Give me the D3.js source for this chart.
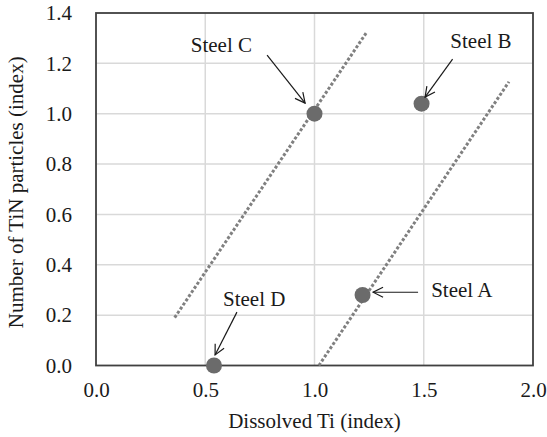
<!DOCTYPE html>
<html>
<head>
<meta charset="utf-8">
<script src="https://cdn.jsdelivr.net/npm/d3@7"></script>
<style>
    body { margin: 0; background: #fff; }
    text { font-family: "Liberation Serif", "Times New Roman", serif; fill: #1a1a1a; }
</style>
</head>
<body>
<script>
// Data
var steels = ["Steel A", "Steel B", "Steel C", "Steel D"];
var dissolvedTi = [1.22, 1.49, 1.00, 0.54];
var tinParticles = [0.28, 1.04, 1.00, 0.00];

// Dotted guide lines (end points)
var guideX1 = [0.36, 1.236], guideY1 = [0.19, 1.32];
var guideX2 = [1.02, 1.89],  guideY2 = [0.00, 1.127];

// Tick values
var xTicks = [0, 0.5, 1.0, 1.5, 2.0];
var yTicks = [0, 0.2, 0.4, 0.6, 0.8, 1.0, 1.2, 1.4];

// Callout labels (in data units): label spot, arrow start, arrow tip
var labelX = [1.674, 1.762, 0.574, 0.724];
var labelY = [0.273, 1.261, 1.245, 0.236];
var arrowFromX = [1.474, 1.632, 0.783, 0.645];
var arrowFromY = [0.291, 1.217, 1.233, 0.212];
var arrowToX = [1.268, 1.506, 0.957, 0.545];
var arrowToY = [0.291, 1.066, 1.042, 0.042];

var W = 547, H = 437;
var margin = {left: 96, right: 14, top: 13, bottom: 71.5};
var width = W - margin.left - margin.right,
    height = H - margin.top - margin.bottom;

var svg = d3.select("body").append("svg")
    .attr("width", W)
    .attr("height", H);

svg.append("defs").append("marker")
    .attr("id", "head")
    .attr("viewBox", "0 0 12 12")
    .attr("refX", 11).attr("refY", 6)
    .attr("markerWidth", 12).attr("markerHeight", 12)
    .attr("markerUnits", "userSpaceOnUse")
    .attr("orient", "auto")
    .append("path")
    .attr("d", "M1,1 L11,6 L1,11")
    .attr("fill", "none")
    .attr("stroke", "#1a1a1a")
    .attr("stroke-width", 1.2);

var g = svg.append("g")
    .attr("transform", "translate(" + margin.left + "," + margin.top + ")");

var x = d3.scaleLinear().domain([0, 2]).range([0, width]);
var y = d3.scaleLinear().domain([0, 1.4]).range([height, 0]);

// Gridlines
g.append("g").selectAll("line.gx")
    .data(xTicks.slice(1, -1))
    .enter().append("line")
    .attr("x1", d => x(d)).attr("x2", d => x(d))
    .attr("y1", 0).attr("y2", height)
    .attr("stroke", "#d9d9d9").attr("stroke-width", 1.5);

g.append("g").selectAll("line.gy")
    .data(yTicks.slice(1, -1))
    .enter().append("line")
    .attr("x1", 0).attr("x2", width)
    .attr("y1", d => y(d)).attr("y2", d => y(d))
    .attr("stroke", "#d9d9d9").attr("stroke-width", 1.5);

// Axes (labels only)
var fmt = d3.format(".1f");
var yAxis = g.append("g")
    .call(d3.axisLeft(y).tickValues(yTicks).tickFormat(fmt)
        .tickSize(0).tickPadding(24));
var xAxis = g.append("g")
    .attr("transform", "translate(0," + height + ")")
    .call(d3.axisBottom(x).tickValues(xTicks).tickFormat(fmt)
        .tickSize(0).tickPadding(16.5));
[xAxis, yAxis].forEach(function(a) {
    a.select(".domain").remove();
    a.selectAll("text")
        .style("font-size", "21px")
        .style("font-family", "'Liberation Serif', 'Times New Roman', serif")
        .attr("fill", "#1a1a1a");
});

// Plot border
g.append("rect")
    .attr("x", 0).attr("y", 0)
    .attr("width", width).attr("height", height)
    .attr("fill", "none")
    .attr("stroke", "#404040").attr("stroke-width", 1.8);

// Dotted guide lines
var line = d3.line().x(d => x(d[0])).y(d => y(d[1]));
[[guideX1, guideY1], [guideX2, guideY2]].forEach(function(p) {
    g.append("path")
        .datum(d3.zip(p[0], p[1]))
        .attr("d", line)
        .attr("fill", "none")
        .attr("stroke", "#808080")
        .attr("stroke-width", 3)
        .attr("stroke-dasharray", "3,2");
});

// Points
g.append("g").selectAll("circle")
    .data(steels)
    .enter().append("circle")
    .attr("cx", (d, i) => x(dissolvedTi[i]))
    .attr("cy", (d, i) => y(tinParticles[i]))
    .attr("r", 8)
    .attr("fill", "#6b6b6b");

// Callouts
g.append("g").selectAll("line")
    .data(steels)
    .enter().append("line")
    .attr("x1", (d, i) => x(arrowFromX[i]))
    .attr("y1", (d, i) => y(arrowFromY[i]))
    .attr("x2", (d, i) => x(arrowToX[i]))
    .attr("y2", (d, i) => y(arrowToY[i]))
    .attr("stroke", "#1a1a1a")
    .attr("stroke-width", 1.2)
    .attr("marker-end", "url(#head)");

g.append("g").selectAll("text")
    .data(steels)
    .enter().append("text")
    .attr("x", (d, i) => x(labelX[i]))
    .attr("y", (d, i) => y(labelY[i]))
    .attr("text-anchor", "middle")
    .style("font-size", "21px")
    .text(d => d);

// Axis titles
svg.append("text")
    .attr("x", margin.left + width / 2)
    .attr("y", 428)
    .attr("text-anchor", "middle")
    .style("font-size", "21px")
    .text("Dissolved Ti (index)");

svg.append("text")
    .attr("transform", "translate(23," + (margin.top + height / 2 + 3) + ") rotate(-90)")
    .attr("text-anchor", "middle")
    .style("font-size", "21px")
    .text("Number of TiN particles (index)");
</script>
</body>
</html>
